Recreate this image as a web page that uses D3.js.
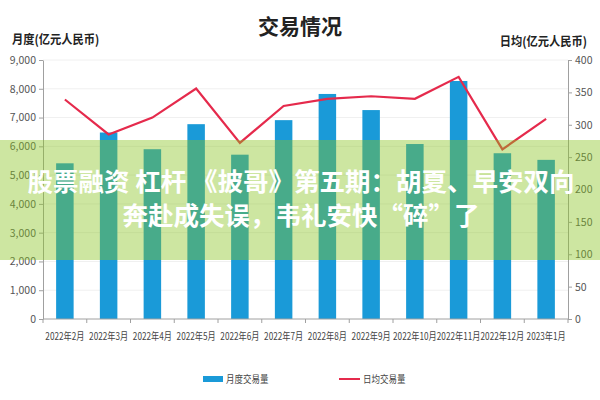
<!DOCTYPE html>
<html><head><meta charset="utf-8">
<script src="https://cdn.jsdelivr.net/npm/d3@7"></script>
<style>
body{margin:0;background:#fff;}
svg{display:block;font-family:"Noto Sans CJK SC","Noto Sans",sans-serif;}
</style></head>
<body><svg id="c" width="600" height="400"></svg>
<script>
const categories = ["2022年2月","2022年3月","2022年4月","2022年5月","2022年6月","2022年7月","2022年8月","2022年9月","2022年10月","2022年11月","2022年12月","2023年1月"];
const monthlyVolume = [5410,6480,5900,6770,5710,6910,7820,7260,6080,8270,5760,5530];
const dailyAverage = [339,285,311,356,272,329,340,344,340,374,262,309];
const leftTicks = [0,1000,2000,3000,4000,5000,6000,7000,8000,9000];
const rightTicks = [0,50,100,150,200,250,300,350,400];
const seriesNames = ["月度交易量","日均交易量"];
const titleText = "交易情况";
const leftTitle = "月度(亿元人民币)";
const rightTitle = "日均(亿元人民币)";
const bannerLines = ["股票融资 杠杆 《披哥》第五期：胡夏、早安双向","奔赴成失误，韦礼安快“碎”了"];

const svg = d3.select("#c");
const L = 43, R = 568, T = 60, B = 319;
const x = d3.scaleBand().domain(categories).range([L,R]).paddingInner(0.6).paddingOuter(0.3);
const yL = d3.scaleLinear().domain([0,9000]).range([B,T]);
const yR = d3.scaleLinear().domain([0,400]).range([B,T]);
const blue = "#1a9ad8", red = "#e52a4c";

// gridlines
svg.append("g").selectAll("line").data(leftTicks.slice(1)).join("line")
  .attr("x1",L).attr("x2",R).attr("y1",d=>yL(d)).attr("y2",d=>yL(d))
  .attr("stroke","#f0f0f0").attr("stroke-width",1);

// bars
svg.append("g").selectAll("rect").data(monthlyVolume).join("rect")
  .attr("x",(d,i)=>x(categories[i])).attr("width",x.bandwidth())
  .attr("y",d=>yL(d)).attr("height",d=>B-yL(d)).attr("fill",blue);

// line
const line = d3.line().x((d,i)=>x(categories[i])+x.bandwidth()/2).y(d=>yR(d));
svg.append("path").datum(dailyAverage).attr("d",line)
  .attr("fill","none").attr("stroke",red).attr("stroke-width",2.2).attr("stroke-linejoin","miter");

// axes
const axStyle = g=>{
  g.select(".domain").attr("stroke","#a0a0a0");
  g.selectAll(".tick line").attr("stroke","#a0a0a0");
  g.selectAll("text").attr("fill","#555").attr("font-size","10.5px").attr("font-family","'Liberation Sans Narrow','Noto Sans CJK SC',sans-serif");
};
const gl = svg.append("g").attr("transform",`translate(${L},0)`)
  .call(d3.axisLeft(yL).tickValues(leftTicks).tickFormat(d3.format(",")).tickSize(4).tickSizeOuter(0).tickPadding(3));
axStyle(gl);
const gr = svg.append("g").attr("transform",`translate(${R},0)`)
  .call(d3.axisRight(yR).tickValues(rightTicks).tickSize(4).tickSizeOuter(0).tickPadding(3));
axStyle(gr);
const gx = svg.append("g").attr("transform",`translate(0,${B})`)
  .call(d3.axisBottom(x).tickSize(0).tickPadding(0));
gx.select(".domain").attr("stroke","#a0a0a0").attr("d",`M${L},0H${R}`);
gx.selectAll(".tick text").remove();
// x tick marks at band boundaries
svg.append("g").selectAll("line").data(d3.range(categories.length+1)).join("line")
  .attr("x1",i=>L+i*x.step()).attr("x2",i=>L+i*x.step()).attr("y1",B).attr("y2",B+4)
  .attr("stroke","#a0a0a0");
// x labels
svg.append("g").selectAll("text").data(categories).join("text")
  .attr("transform",d=>`translate(${x(d)+x.bandwidth()/2},340) scale(0.78,1)`)
  .attr("text-anchor","middle").attr("font-size","10.5px").attr("fill","#444").text(d=>d);

// titles
svg.append("text").attr("x",300).attr("y",34).attr("text-anchor","middle")
  .attr("font-size","21px").attr("font-weight","bold").attr("fill","#222").text(titleText);
svg.append("text").attr("transform","translate(12,44) scale(0.9,1)").attr("font-size","12.5px").attr("font-weight","bold").attr("fill","#222").text(leftTitle);
svg.append("text").attr("transform","translate(587,46) scale(0.9,1)").attr("text-anchor","end").attr("font-size","12.5px").attr("font-weight","bold").attr("fill","#222").text(rightTitle);

// legend
svg.append("rect").attr("x",203).attr("y",376).attr("width",20).attr("height",6).attr("fill",blue);
svg.append("text").attr("transform","translate(226,383) scale(0.85,1)").attr("font-size","10px").attr("fill","#444").text(seriesNames[0]);
svg.append("line").attr("x1",339).attr("x2",360).attr("y1",379).attr("y2",379).attr("stroke",red).attr("stroke-width",2);
svg.append("text").attr("transform","translate(363,383) scale(0.85,1)").attr("font-size","10px").attr("fill","#444").text(seriesNames[1]);

// overlay banner
svg.append("rect").attr("x",0).attr("y",140).attr("width",600).attr("height",120).attr("fill","rgba(135,195,30,0.42)");
svg.append("g").selectAll("text").data(bannerLines).join("text")
  .attr("x",301).attr("y",(d,i)=>191+i*34).attr("text-anchor","middle")
  .attr("font-size","25.5px").attr("font-weight","bold").attr("fill","#fff").text(d=>d);
</script></body></html>
